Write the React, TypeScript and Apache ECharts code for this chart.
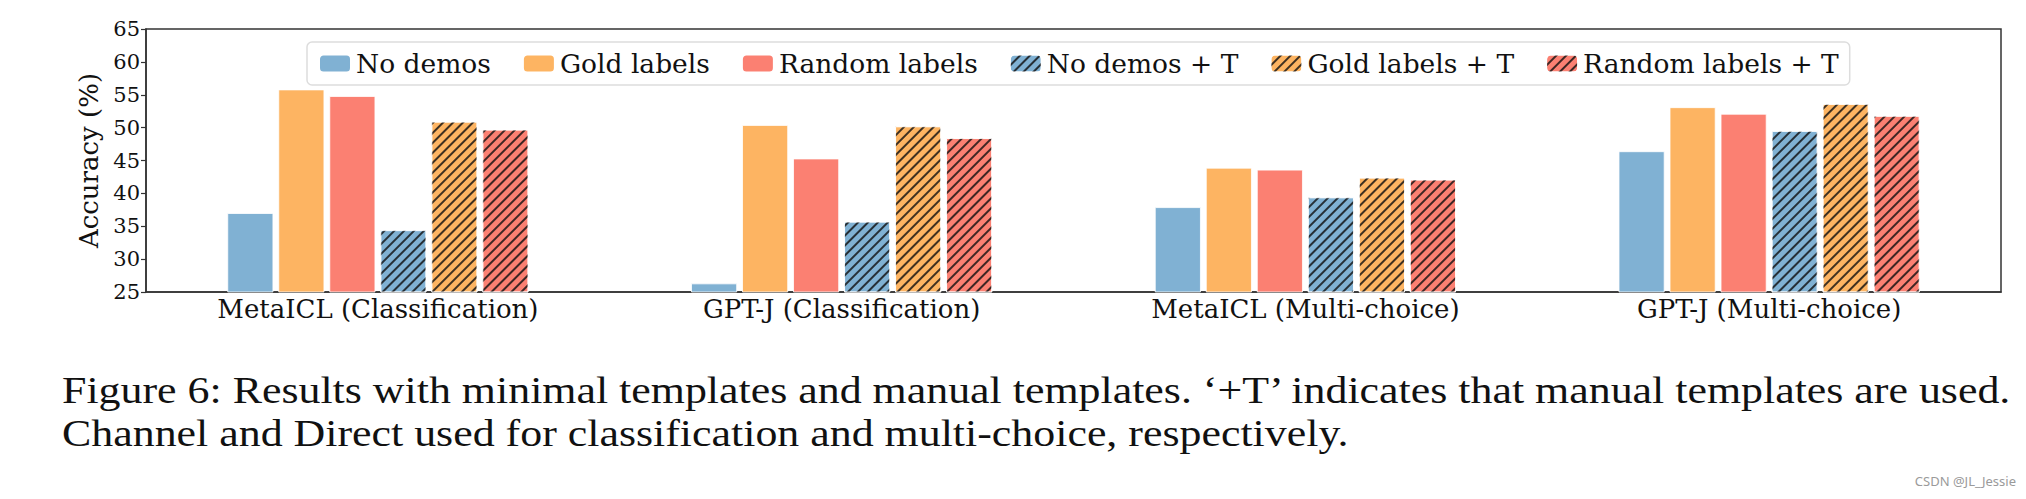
import React, { useEffect, useRef } from "react";
import * as echarts from "echarts";

const categories = [
  "MetaICL (Classification)",
  "GPT-J (Classification)",
  "MetaICL (Multi-choice)",
  "GPT-J (Multi-choice)",
];
const seriesNames = [
  "No demos",
  "Gold labels",
  "Random labels",
  "No demos + T",
  "Gold labels + T",
  "Random labels + T",
];
const noDemos = [37.0, 26.3, 37.9, 46.4];
const goldLabels = [55.8, 50.4, 43.9, 53.1];
const randomLabels = [54.8, 45.3, 43.6, 52.1];
const noDemosT = [34.4, 35.7, 39.4, 49.5];
const goldLabelsT = [50.9, 50.2, 42.4, 53.6];
const randomLabelsT = [49.7, 48.4, 42.1, 51.8];
const yTicks = { min: 25, max: 65, interval: 5 };

const captionLine1 =
  "Figure 6: Results with minimal templates and manual templates. \u2018+T\u2019 indicates that manual templates are used.";
const captionLine2 =
  "Channel and Direct used for classification and multi-choice, respectively.";
const watermark = "CSDN @JL_Jessie";

const colors = ["#80b1d3", "#fdb462", "#fb8072"];

export default function App() {
  const ref = useRef<HTMLDivElement>(null);
  useEffect(() => {
    if (!ref.current) return;
    const chart = echarts.init(ref.current, undefined, { renderer: "svg" });
    const values = [noDemos, goldLabels, randomLabels, noDemosT, goldLabelsT, randomLabelsT];
    const hatch = {
      symbol: "rect",
      symbolSize: 1,
      color: "rgba(15,15,15,0.8)",
      dashArrayX: [1, 0],
      dashArrayY: [1.1, 4.7],
      rotation: -Math.PI / 4,
    };
    const serif = '"DejaVu Serif", serif';
    const series = values.map((v, i) => ({
      name: seriesNames[i],
      type: "bar",
      data: v,
      barWidth: 46,
      barGap: "10.9%",
      itemStyle: {
        color: colors[i % 3],
        borderColor: "#ffffff",
        borderWidth: 0.8,
        ...(i >= 3 ? { decal: hatch } : {}),
      },
    }));
    const captionStyle = {
      fontFamily: '"Liberation Serif", serif',
      fontSize: 38,
      fill: "#111",
      verticalAlign: "middle",
      align: "left",
    };
    chart.setOption({
      animation: false,
      grid: {
        left: 146,
        right: 25,
        top: 29,
        bottom: 207,
        show: true,
        borderColor: "#333",
        borderWidth: 1.5,
      },
      legend: {
        left: 307,
        top: 42,
        padding: [8, 11, 8, 11],
        itemWidth: 32,
        itemHeight: 18,
        itemGap: 31,
        borderColor: "#dddddd",
        borderWidth: 1.5,
        borderRadius: 5,
        backgroundColor: "#ffffff",
        textStyle: { fontFamily: serif, fontSize: 26.5, color: "#111" },
        data: seriesNames,
      },
      xAxis: {
        type: "category",
        data: categories,
        axisLine: { lineStyle: { color: "#333", width: 1.5 } },
        axisTick: { alignWithLabel: true, length: 4, lineStyle: { color: "#333", width: 1.2 } },
        axisLabel: { fontFamily: serif, fontSize: 26, color: "#111", margin: 4 },
      },
      yAxis: {
        type: "value",
        min: yTicks.min,
        max: yTicks.max,
        interval: yTicks.interval,
        name: "Accuracy (%)",
        nameLocation: "middle",
        nameGap: 42,
        nameTextStyle: { fontFamily: serif, fontSize: 26, color: "#111" },
        splitLine: { show: false },
        axisLine: { show: true, lineStyle: { color: "#333", width: 1.5 } },
        axisTick: { show: true, length: 5, lineStyle: { color: "#333", width: 1.2 } },
        axisLabel: { fontFamily: serif, fontSize: 21, color: "#111", margin: 6 },
      },
      series,
      graphic: [
        {
          type: "text",
          x: 62,
          y: 390,
          scaleX: 1.155,
          style: { ...captionStyle, text: captionLine1 },
        },
        {
          type: "text",
          x: 62,
          y: 433,
          scaleX: 1.155,
          style: { ...captionStyle, text: captionLine2 },
        },
        {
          type: "text",
          x: 2016,
          y: 481,
          style: {
            text: watermark,
            fontFamily: '"Noto Sans", sans-serif',
            fontSize: 13,
            fill: "#9a9a9a",
            verticalAlign: "middle",
            align: "right",
          },
        },
      ],
    });
    return () => chart.dispose();
  }, []);
  return (
    <div
      ref={ref}
      style={{ position: "fixed", left: 0, top: 0, width: 2026, height: 499, background: "#fff" }}
    />
  );
}
